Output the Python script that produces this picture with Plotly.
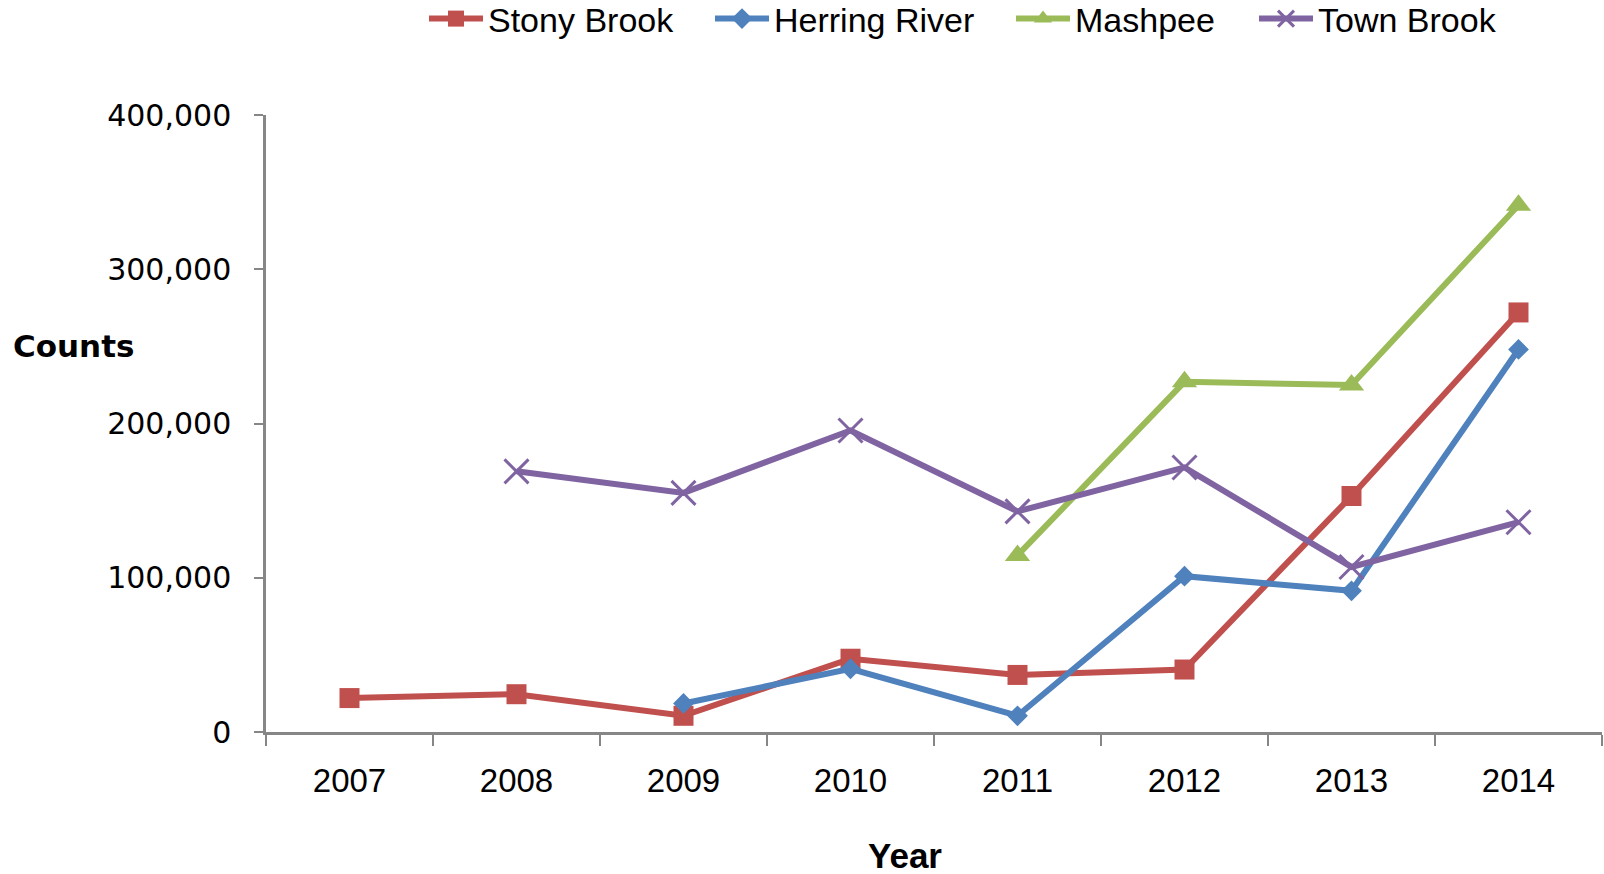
import plotly.graph_objects as go

# Annual counts by river
years = ["2007", "2008", "2009", "2010", "2011", "2012", "2013", "2014"]
stony_brook = [22000, 24500, 10500, 47500, 37000, 40500, 153000, 272000]
herring_river = [None, None, 18500, 41000, 10500, 101000, 91500, 248000]
mashpee = [None, None, None, None, 114500, 227000, 225000, 341500]
town_brook = [None, 169000, 155000, 195500, 143000, 171500, 107000, 136000]

y_ticks = [0, 100000, 200000, 300000, 400000]

W, H = 1604, 874
L, R, T, B = 266, 2, 115, 142

sans = "Liberation Sans"
wide = "DejaVu Sans"

series = [
    ("Stony Brook", stony_brook, "#C0504D", dict(symbol="square", size=20), "legend"),
    ("Herring River", herring_river, "#4F81BD", dict(symbol="diamond", size=16), "legend2"),
    ("Mashpee", mashpee, "#9BBB59", dict(symbol="triangle-up", size=22), "legend3"),
    ("Town Brook", town_brook, "#8064A2",
     dict(symbol="x-thin-open", size=24, line=dict(width=3, color="#8064A2")), "legend4"),
]

fig = go.Figure()
for name, vals, color, mk, lg in series:
    marker = dict(color=color, **mk)
    fig.add_trace(go.Scatter(
        x=years, y=vals, name=name, mode="lines+markers",
        line=dict(color=color, width=6), marker=marker,
        connectgaps=False, legend=lg,
    ))

# one legend per entry so each sits at its own spot along the top
legend_x = [424, 710, 1011, 1254]
leg_common = dict(
    orientation="h", xref="container", yref="container",
    xanchor="left", yanchor="middle", y=1 - 19 / H,
    font=dict(family=sans, size=34, color="#000000"),
    itemwidth=54, bgcolor="rgba(0,0,0,0)", borderwidth=0,
)
layout_legends = {}
for i, key in enumerate(["legend", "legend2", "legend3", "legend4"]):
    layout_legends[key] = dict(x=legend_x[i] / W, **leg_common)

axis_color = "#868686"

fig.update_layout(
    width=W, height=H,
    margin=dict(l=L, r=R, t=T, b=B, pad=0),
    paper_bgcolor="white", plot_bgcolor="white",
    showlegend=True,
    **layout_legends,
    xaxis=dict(
        type="category", range=[-0.5, 7.5],
        showline=True, linecolor=axis_color, linewidth=2.5,
        ticks="outside", tickson="boundaries", ticklen=11, tickwidth=2, tickcolor=axis_color,
        showgrid=False, zeroline=False,
        tickfont=dict(family=sans, size=33, color="#000000"),
        ticklabelstandoff=18,
    ),
    yaxis=dict(
        range=[0, 400000], tickvals=y_ticks, tickformat=",",
        showline=True, linecolor=axis_color, linewidth=2.5,
        ticks="outside", ticklen=9, tickwidth=2, tickcolor=axis_color,
        showgrid=False, zeroline=False,
        tickfont=dict(family=wide, size=30, color="#000000"),
        ticklabelstandoff=17,
    ),
    annotations=[
        dict(text="<b>Counts</b>", xref="paper", yref="paper",
             x=(73 - L) / (W - L - R), y=1 - (346 - T) / (H - T - B),
             xanchor="center", yanchor="middle", showarrow=False,
             font=dict(family=wide, size=31, color="#000000")),
        dict(text="<b>Year</b>", xref="paper", yref="paper",
             x=(905 - L) / (W - L - R), y=1 - (855 - T) / (H - T - B),
             xanchor="center", yanchor="middle", showarrow=False,
             font=dict(family=sans, size=35, color="#000000")),
    ],
)

fig.write_html("out.html")
